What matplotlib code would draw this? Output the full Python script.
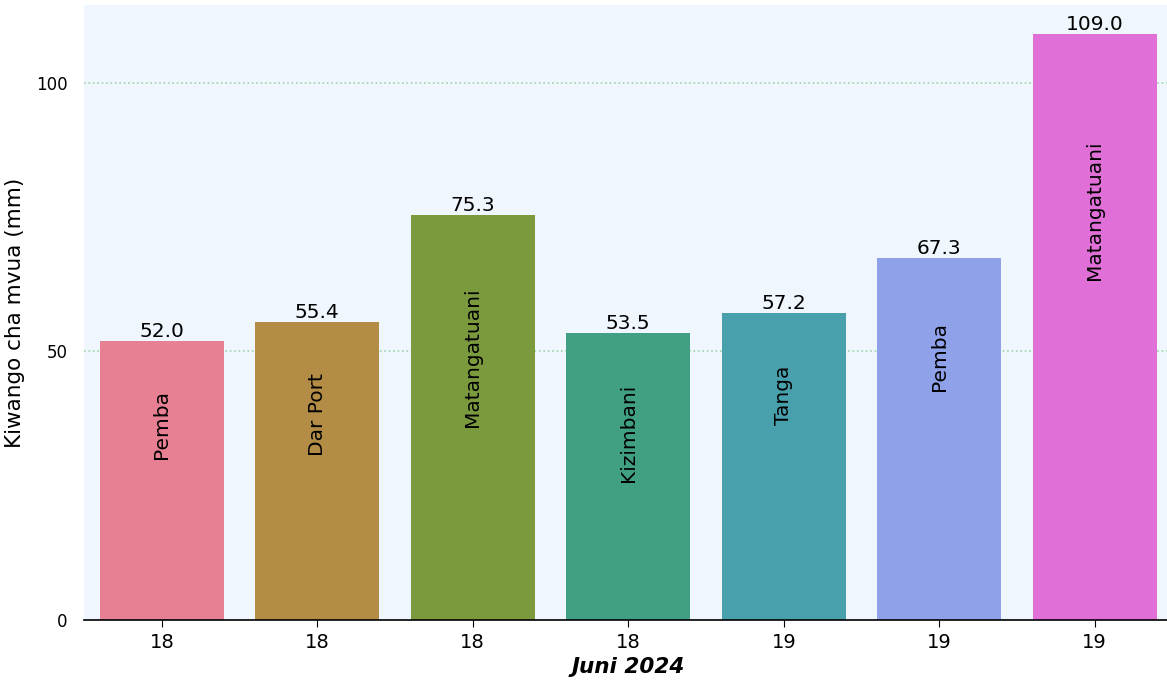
import matplotlib
matplotlib.use("Agg")
import matplotlib.pyplot as plt

days = ["18", "18", "18", "18", "19", "19", "19"]
stations = ["Pemba", "Dar Port", "Matangatuani", "Kizimbani", "Tanga", "Pemba", "Matangatuani"]
rainfall = [52.0, 55.4, 75.3, 53.5, 57.2, 67.3, 109.0]
bar_colors = ["#e78093", "#b38c45", "#7b9a3e", "#41a084", "#48a0ad", "#8fa1e8", "#e070d8"]
label_frac = [0.70, 0.69, 0.65, 0.65, 0.73, 0.73, 0.70]

fig = plt.figure(figsize=(11.67, 6.81), dpi=100)
ax = fig.add_axes([84/1167, 61/681, 1088.5/1167, 615/681])
ax.set_facecolor("#eff6fd")

x = list(range(len(rainfall)))
ax.grid(axis="y", color="#9fd4a8", linestyle=":", linewidth=1.2)
ax.set_axisbelow(True)
bars = ax.bar(x, rainfall, width=0.8, color=bar_colors, zorder=2)

for xi, v, name, f in zip(x, rainfall, stations, label_frac):
    ax.text(xi, v, f"{v:.1f}", ha="center", va="bottom", fontsize=14.5, zorder=4)
    ax.text(xi, v * f, name, ha="center", va="center", rotation=90, fontsize=14.5, zorder=4)

ax.set_xlim(-0.5, 6.5)
ax.set_ylim(0, 114.45)
ax.set_xticks(x)
ax.set_xticklabels(days, fontsize=14)
ax.set_yticks([0, 50, 100])
ax.tick_params(axis="y", length=0, labelsize=12, pad=12)
ax.tick_params(axis="x", length=5, pad=4)
ax.set_ylabel("Kiwango cha mvua (mm)", fontsize=15.5, labelpad=8)
ax.set_xlabel("Juni 2024", fontsize=15.5, fontweight="bold", fontstyle="italic", labelpad=4)
for s in ["top", "right", "left"]:
    ax.spines[s].set_visible(False)
ax.spines["bottom"].set_linewidth(1.2)

fig.savefig("out.png", dpi=100)
